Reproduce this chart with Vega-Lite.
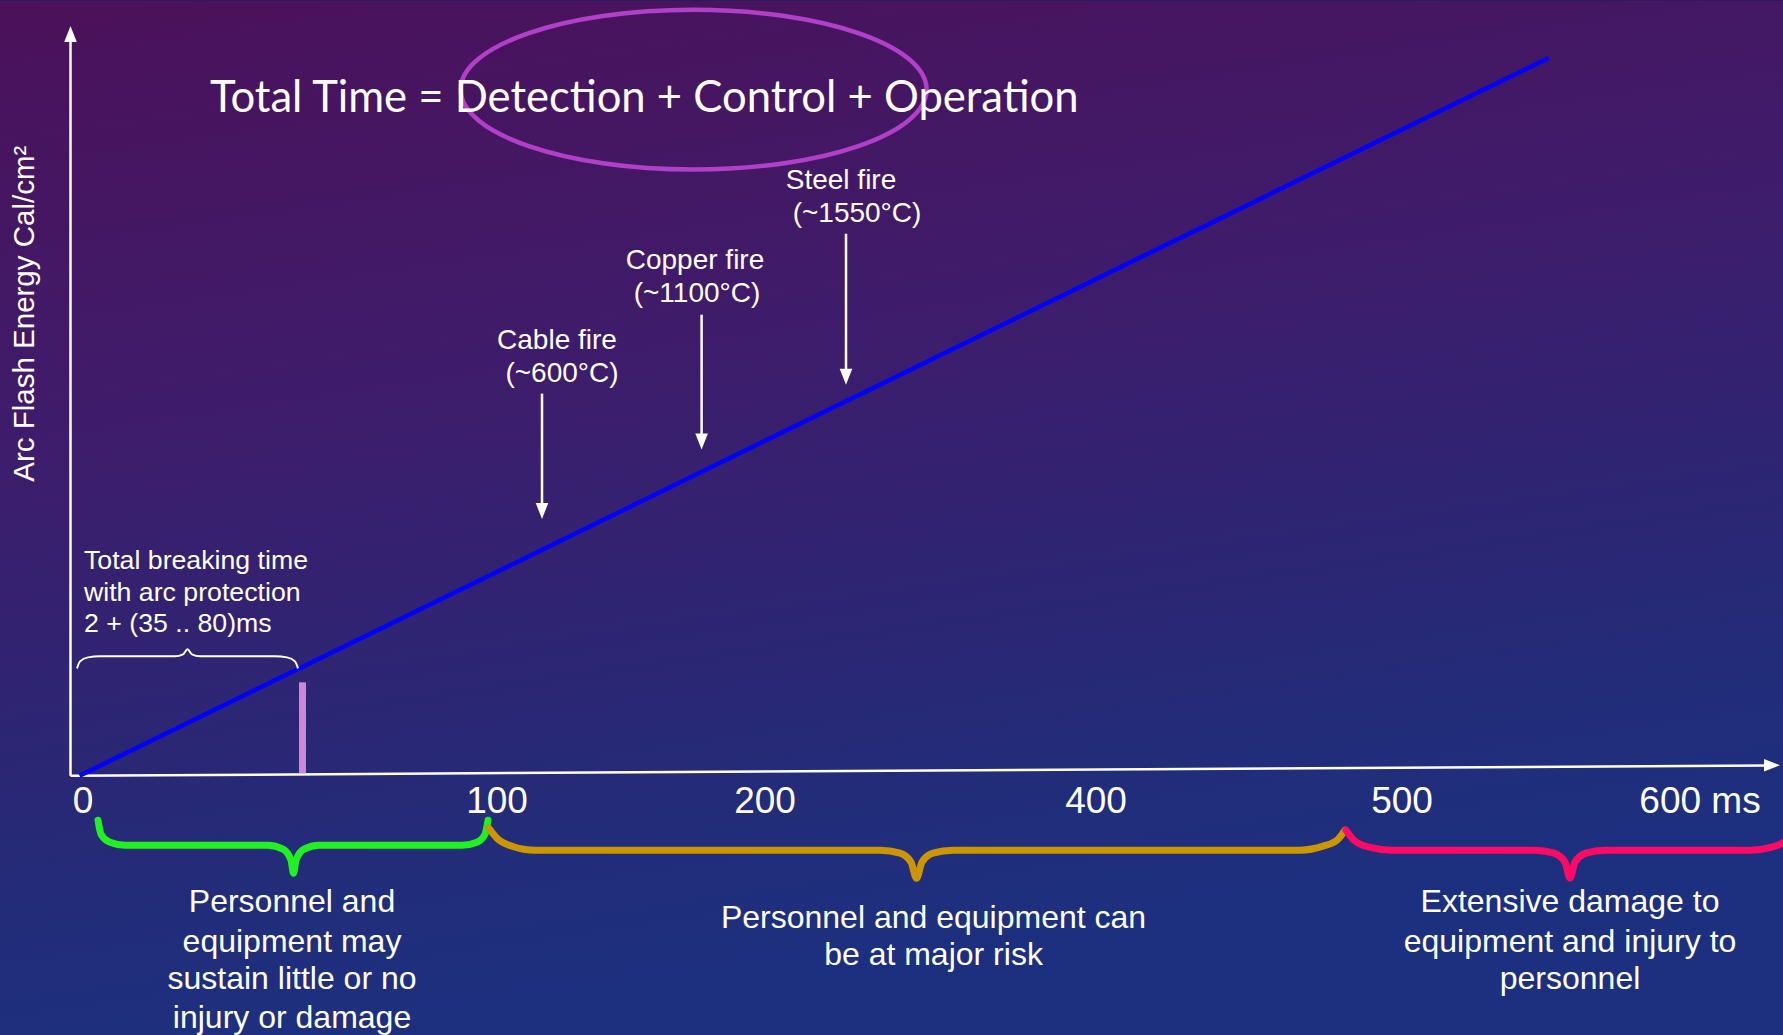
{
  "$schema": "https://vega.github.io/schema/vega-lite/v6.json",
  "width": 1783,
  "height": 1035,
  "autosize": {"type": "fit", "contains": "padding"},
  "padding": 0,
  "background": "#2a1a60",
  "config": {"view": {"stroke": null}},
  "encoding": {
    "x": {"field": "x", "type": "quantitative", "scale": {"domain": [0, 1783], "nice": false, "zero": false}, "axis": null},
    "y": {"field": "y", "type": "quantitative", "scale": {"domain": [0, 1035], "nice": false, "zero": false, "reverse": true}, "axis": null}
  },
  "layer": [
    {
      "data": {"values": [{"x": 0, "y": 0, "x2": 1783, "y2": 1035}]},
      "mark": {"type": "rect", "fill": {"gradient": "linear", "x1": 0, "y1": 0, "x2": 0.25, "y2": 1, "stops": [
        {"offset": 0, "color": "#4c115a"},
        {"offset": 0.4, "color": "#3e1c6b"},
        {"offset": 0.65, "color": "#2e2573"},
        {"offset": 0.85, "color": "#222d7a"},
        {"offset": 1, "color": "#1c307f"}]}},
      "encoding": {"x2": {"field": "x2"}, "y2": {"field": "y2"}}
    },
    {
      "data": {"values": [
        {"x": 70.5, "y": 775.5, "x2": 70.5, "y2": 40},
        {"x": 70.5, "y": 775.5, "x2": 1768, "y2": 765.3},
        {"x": 542, "y": 393, "x2": 542, "y2": 506},
        {"x": 701.6, "y": 314, "x2": 701.6, "y2": 437},
        {"x": 846, "y": 233, "x2": 846, "y2": 372}
      ]},
      "mark": {"type": "rule", "color": "#ffffff", "strokeWidth": 2.5},
      "encoding": {"x2": {"field": "x2"}, "y2": {"field": "y2"}}
    },
    {
      "data": {"values": [
        {"x": 542, "y": 510.5, "dir": "down"},
        {"x": 701.6, "y": 441, "dir": "down"},
        {"x": 846, "y": 376, "dir": "down"},
        {"x": 70.5, "y": 33, "dir": "up"},
        {"x": 1772, "y": 765, "dir": "right"}
      ]},
      "mark": {"type": "point", "filled": true, "color": "#ffffff", "opacity": 1, "size": 523, "strokeWidth": 0},
      "encoding": {"shape": {"field": "dir", "type": "nominal", "legend": null, "scale": {"domain": ["down", "up", "right"], "range": ["M-0.55,-0.7L0.55,-0.7L0,0.7Z", "M0,-0.7L0.55,0.7L-0.55,0.7Z", "M0.7,0L-0.7,-0.55L-0.7,0.55Z"]}}}
    },
    {
      "data": {"values": [{"x": 302.5, "y": 682, "x2": 302.5, "y2": 773}]},
      "mark": {"type": "rule", "color": "#cc88d8", "strokeWidth": 7},
      "encoding": {"x2": {"field": "x2"}, "y2": {"field": "y2"}}
    },
    {
      "data": {"values": [{"x": 79.6, "y": 775.5, "x2": 1548.7, "y2": 57}]},
      "mark": {"type": "rule", "color": "#0000ff", "strokeWidth": 4.5},
      "encoding": {"x2": {"field": "x2"}, "y2": {"field": "y2"}}
    },
    {
      "data": {"values": [
        {"x": 77, "y": 668}, {"x": 80, "y": 661}, {"x": 88, "y": 657}, {"x": 100, "y": 656}, {"x": 175, "y": 656}, {"x": 183, "y": 654}, {"x": 187.5, "y": 649}, {"x": 192, "y": 654}, {"x": 200, "y": 656}, {"x": 275, "y": 656}, {"x": 287, "y": 657}, {"x": 295, "y": 661}, {"x": 298, "y": 668}
      ]},
      "mark": {"type": "line", "color": "#ffffff", "strokeWidth": 2, "interpolate": "monotone"}
    },
    {
      "data": {"values": [
        {"b": "g", "x": 98, "y": 820}, {"b": "g", "x": 101, "y": 834}, {"b": "g", "x": 110, "y": 842}, {"b": "g", "x": 125, "y": 845}, {"b": "g", "x": 268, "y": 845}, {"b": "g", "x": 283, "y": 849}, {"b": "g", "x": 291, "y": 860}, {"b": "g", "x": 293.5, "y": 873}, {"b": "g", "x": 296, "y": 860}, {"b": "g", "x": 304, "y": 849}, {"b": "g", "x": 319, "y": 845}, {"b": "g", "x": 462, "y": 845}, {"b": "g", "x": 477, "y": 842}, {"b": "g", "x": 485, "y": 834}, {"b": "g", "x": 488, "y": 820},
        {"b": "o", "x": 489, "y": 828}, {"b": "o", "x": 497, "y": 838}, {"b": "o", "x": 512, "y": 846}, {"b": "o", "x": 535, "y": 850}, {"b": "o", "x": 880, "y": 850}, {"b": "o", "x": 900, "y": 853}, {"b": "o", "x": 911, "y": 862}, {"b": "o", "x": 916.5, "y": 878}, {"b": "o", "x": 922, "y": 862}, {"b": "o", "x": 933, "y": 853}, {"b": "o", "x": 953, "y": 850}, {"b": "o", "x": 1300, "y": 850}, {"b": "o", "x": 1323, "y": 846}, {"b": "o", "x": 1337, "y": 840}, {"b": "o", "x": 1345, "y": 830},
        {"b": "r", "x": 1346, "y": 830}, {"b": "r", "x": 1354, "y": 840}, {"b": "r", "x": 1369, "y": 847}, {"b": "r", "x": 1392, "y": 850}, {"b": "r", "x": 1535, "y": 850}, {"b": "r", "x": 1554, "y": 853}, {"b": "r", "x": 1565, "y": 862}, {"b": "r", "x": 1570, "y": 878}, {"b": "r", "x": 1575, "y": 862}, {"b": "r", "x": 1586, "y": 853}, {"b": "r", "x": 1605, "y": 850}, {"b": "r", "x": 1750, "y": 850}, {"b": "r", "x": 1772, "y": 847}, {"b": "r", "x": 1786, "y": 840}, {"b": "r", "x": 1795, "y": 830}
      ]},
      "mark": {"type": "line", "strokeWidth": 7, "strokeCap": "round", "strokeJoin": "round", "interpolate": "monotone", "clip": true},
      "encoding": {"color": {"field": "b", "type": "nominal", "legend": null, "scale": {"domain": ["g", "o", "r"], "range": ["#22f022", "#cc9600", "#ff0a64"]}}}
    },
    {
      "data": {"values": [{"x": 693.6, "y": 88.7}]},
      "mark": {"type": "point", "filled": false, "opacity": 1, "stroke": "#b040c8", "strokeWidth": 4.5, "size": 217156,
        "shape": "M-1,0C-1,-0.1894,-0.5523,-0.343,0,-0.343C0.5523,-0.343,1,-0.1894,1,0C1,0.1894,0.5523,0.343,0,0.343C-0.5523,0.343,-1,0.1894,-1,0Z"}
    },
    {
      "data": {"values": [{"x": 210, "y": 111, "t": "Total Time = Detection + Control + Operation"}]},
      "mark": {"type": "text", "font": "Lato", "fontSize": 43.6, "color": "#ffffff", "align": "left", "baseline": "alphabetic"},
      "encoding": {"text": {"field": "t"}}
    },
    {
      "data": {"values": [{"x": 25, "y": 313, "t": "Arc Flash Energy Cal/cm²"}]},
      "mark": {"type": "text", "font": "Liberation Sans", "fontSize": 29.5, "color": "#ffffff", "align": "center", "baseline": "middle", "angle": 270},
      "encoding": {"text": {"field": "t"}}
    },
    {
      "data": {"values": [
        {"x": 841, "y": 180, "t": "Steel fire"}, {"x": 857, "y": 213, "t": "(~1550°C)"},
        {"x": 695, "y": 260, "t": "Copper fire"}, {"x": 697, "y": 293, "t": "(~1100°C)"},
        {"x": 557, "y": 340, "t": "Cable fire"}, {"x": 562, "y": 373, "t": "(~600°C)"}
      ]},
      "mark": {"type": "text", "font": "Liberation Sans", "fontSize": 28, "color": "#ffffff", "align": "center", "baseline": "middle"},
      "encoding": {"text": {"field": "t"}}
    },
    {
      "data": {"values": [
        {"x": 84, "y": 561, "t": "Total breaking time"}, {"x": 84, "y": 592.5, "t": "with arc protection"}, {"x": 84, "y": 624, "t": "2 + (35 .. 80)ms"}
      ]},
      "mark": {"type": "text", "font": "Liberation Sans", "fontSize": 26.7, "color": "#ffffff", "align": "left", "baseline": "middle"},
      "encoding": {"text": {"field": "t"}}
    },
    {
      "data": {"values": [
        {"x": 83, "y": 802, "t": "0"}, {"x": 497, "y": 802, "t": "100"}, {"x": 765, "y": 802, "t": "200"}, {"x": 1096, "y": 802, "t": "400"}, {"x": 1402, "y": 802, "t": "500"}, {"x": 1700, "y": 802, "t": "600 ms"}
      ]},
      "mark": {"type": "text", "font": "Liberation Sans", "fontSize": 37, "color": "#ffffff", "align": "center", "baseline": "middle"},
      "encoding": {"text": {"field": "t"}}
    },
    {
      "data": {"values": [
        {"x": 292, "y": 902, "t": "Personnel and"}, {"x": 292, "y": 941.5, "t": "equipment may"}, {"x": 292, "y": 979, "t": "sustain little or no"}, {"x": 292, "y": 1017.5, "t": "injury or damage"},
        {"x": 933.5, "y": 917.5, "t": "Personnel and equipment can"}, {"x": 933.5, "y": 955, "t": "be at major risk"},
        {"x": 1570, "y": 902, "t": "Extensive damage to"}, {"x": 1570, "y": 941.5, "t": "equipment and injury to"}, {"x": 1570, "y": 979, "t": "personnel"}
      ]},
      "mark": {"type": "text", "font": "Liberation Sans", "fontSize": 32, "color": "#ffffff", "align": "center", "baseline": "middle"},
      "encoding": {"text": {"field": "t"}}
    }
  ]
}
